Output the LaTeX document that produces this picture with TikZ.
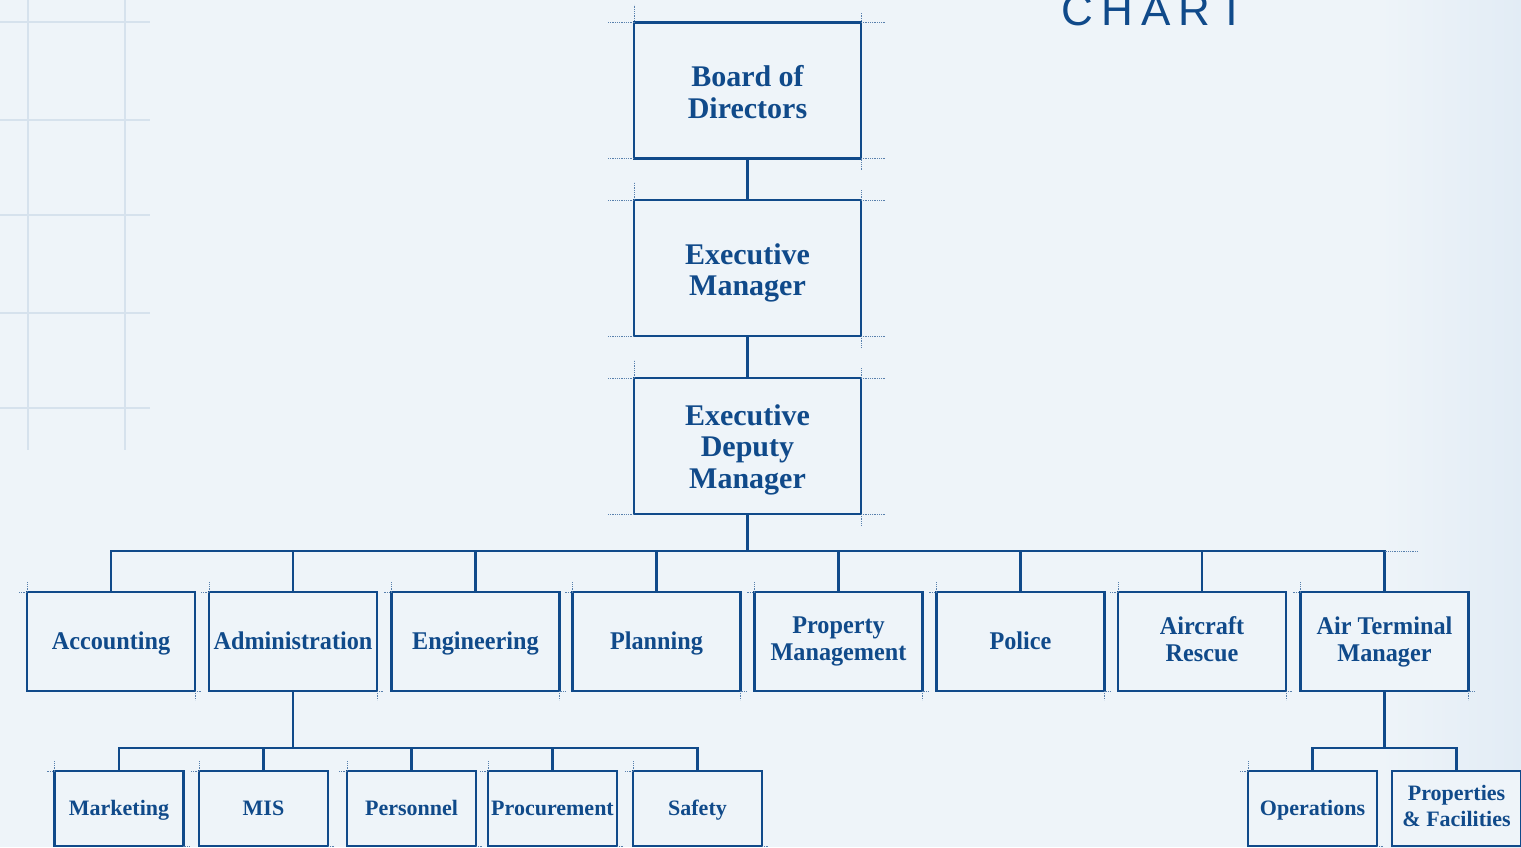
\documentclass[tikz,border=0pt]{standalone}
\usepackage{fontspec}
\setmainfont{Liberation Serif}
\newfontfamily\boxfont{Liberation Serif}
\newfontfamily\midfont[FakeStretch=0.95]{Liberation Serif}
\newfontfamily\chartfont[LetterSpace=19]{Liberation Sans}
\newcommand\boxstrut[1]{\rule[-0.2em]{0pt}{#1}}
\definecolor{ink}{RGB}{16,74,138}
\definecolor{paper}{RGB}{238,244,249}
\definecolor{edge}{RGB}{226,236,245}
\definecolor{gridline}{RGB}{214,226,237}
\begin{document}
\begin{tikzpicture}[x=1pt,y=-1pt]
\tikzstyle{every node}+=[inner sep=0pt,outer sep=0pt]
\tikzstyle{box}=[draw=ink,line width=2.6pt,fill=paper,text=ink,align=center,execute at begin node=\boxstrut{1.05em},execute at end node=\boxstrut{1.05em}]
\tikzstyle{topbox}=[box,minimum width=227,minimum height=136,font=\boxfont\bfseries\fontsize{30}{31.5}\selectfont,text height=55pt,text depth=0pt]
\tikzstyle{midbox}=[box,minimum width=168,minimum height=99,font=\midfont\bfseries\fontsize{25.5}{27}\selectfont]
\tikzstyle{lowbox}=[box,minimum width=129,minimum height=75,font=\boxfont\bfseries\fontsize{22}{26}\selectfont]
\tikzstyle{wire}=[draw=ink,line width=2.6pt]
\tikzstyle{tick}=[draw=ink!70,line width=0.8pt,densely dotted]
\useasboundingbox (0,0) rectangle (1521,847);
\fill [paper] (0,0) rectangle (1521,847);
\shade [left color=paper,right color=edge] (1380,0) rectangle (1521,847);
\foreach \gx in {28,125} \draw [gridline,line width=1.5pt] (\gx,0) -- (\gx,450);
\foreach \gy in {22,120,215,313,408} \draw [gridline,line width=1.5pt] (0,\gy) -- (150,\gy);
\node [anchor=base west,text=ink,font=\chartfont\fontsize{44}{44}\selectfont] (title) at (1061,25) {CHART};
\node [topbox] (board) at (747.5,90.5) {Board of\\Directors};
\node [topbox] (exec) at (747.5,268) {Executive\\Manager};
\node [topbox,text height=84pt] (deputy) at (747.5,446) {Executive\\Deputy\\Manager};
\node [midbox] (acc) at (111,641.5) {Accounting};
\node [midbox] (admin) at (293,641.5) {Administration};
\node [midbox] (eng) at (475.5,641.5) {Engineering};
\node [midbox] (plan) at (656.5,641.5) {Planning};
\node [midbox] (prop) at (838.5,641.5) {Property\\Management};
\node [midbox] (police) at (1020.5,641.5) {Police};
\node [midbox] (rescue) at (1202,641.5) {Aircraft\\Rescue};
\node [midbox] (atm) at (1384.5,641.5) {Air Terminal\\Manager};
\node [lowbox] (mkt) at (119,808.5) {Marketing};
\node [lowbox] (mis) at (263.5,808.5) {MIS};
\node [lowbox] (pers) at (411.5,808.5) {Personnel};
\node [lowbox] (proc) at (552.5,808.5) {Procurement};
\node [lowbox] (safety) at (697.5,808.5) {Safety};
\node [lowbox] (ops) at (1312.5,808.5) {Operations};
\node [lowbox] (fac) at (1456.5,808.5) {Properties\\\& Facilities};
\coordinate (bus) at (747.5,551);
\coordinate (adminbus) at (293,748);
\coordinate (atmbus) at (1384.5,748);
\draw [wire] (board) -- (exec);
\draw [wire] (exec) -- (deputy);
\draw [wire] (deputy) -- (bus);
\draw [wire] (acc.north) -- (acc.north |- bus) -- (atm.north |- bus) -- (atm.north);
\foreach \n in {admin,eng,plan,prop,police,rescue}
  \draw [wire] (\n.north) -- (\n.north |- bus);
\draw [tick] (atm.north |- bus) -- ++(33,0);
\draw [wire] (admin) -- (adminbus);
\draw [wire] (mkt.north) -- (mkt.north |- adminbus) -- (safety.north |- adminbus) -- (safety.north);
\foreach \n in {mis,pers,proc}
  \draw [wire] (\n.north) -- (\n.north |- adminbus);
\draw [wire] (atm) -- (atmbus);
\draw [wire] (ops.north) -- (ops.north |- atmbus) -- (fac.north |- atmbus) -- (fac.north);
\foreach \n in {board,exec,deputy} {
  \draw [tick] (\n.north west) -- ++(-26,0);
  \draw [tick] (\n.north west) -- ++(0,-18);
  \draw [tick] (\n.north east) -- ++(24,0);
  \draw [tick] (\n.north east) -- ++(0,-10);
  \draw [tick] (\n.south west) -- ++(-26,0);
  \draw [tick] (\n.south east) -- ++(24,0);
  \draw [tick] (\n.south east) -- ++(0,12);
}
\foreach \n in {acc,admin,eng,plan,prop,police,rescue,atm,mkt,mis,pers,proc,safety,ops} {
  \draw [tick] (\n.north west) -- ++(-8,0);
  \draw [tick] (\n.north west) -- ++(0,-10);
  \draw [tick] (\n.south east) -- ++(6,0);
  \draw [tick] (\n.south east) -- ++(0,9);
}
\end{tikzpicture}
\end{document}
